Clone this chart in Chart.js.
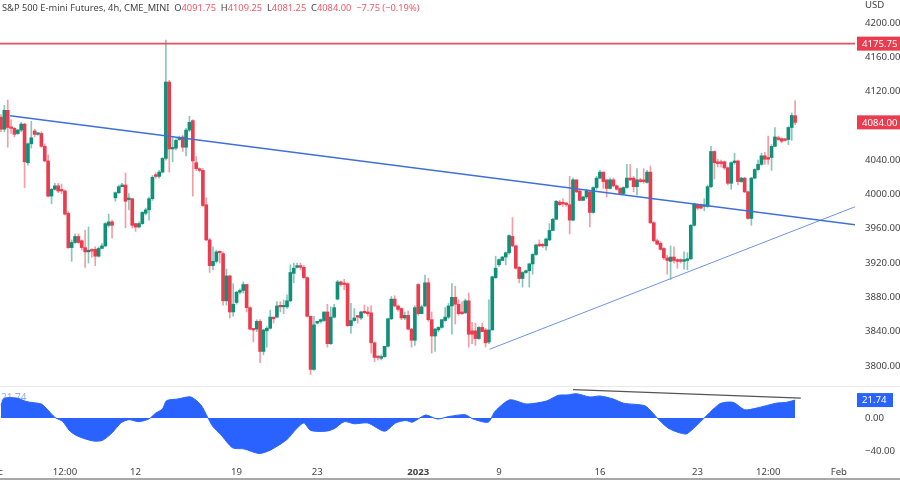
<!DOCTYPE html>
<html>
<head>
<meta charset="utf-8">
<title>S&amp;P 500 E-mini Futures</title>
<script src="https://cdn.jsdelivr.net/npm/chart.js@4/dist/chart.umd.min.js"></script>
<style>
  html, body { margin: 0; padding: 0; background: #fff; }
  #wrap { position: relative; width: 900px; height: 480px; overflow: hidden; }
  #legend { position: absolute; left: 2px; top: 1px; font: 9.3px "Noto Sans", sans-serif; color: #444; white-space: pre; }
  #legend span { color: #ef5a68; }
</style>
</head>
<body>
<div id="wrap">
  <canvas id="chart" width="900" height="480"></canvas>
  <div id="legend">S&amp;P 500 E-mini Futures, 4h, CME_MINI  O<span>4091.75</span>  H<span>4109.25</span>  L<span>4081.25</span>  C<span>4084.00</span>  <span>−7.75 (−0.19%)</span></div>
</div>
<script>
const opens = [
  4090,4076,4098,4078,4077,4071,4075,4082,4037,4059,
  4074,4070,4071,4056,4039,3998,4006,4010,4005,4004,
  3978,3938,3944,3951,3946,3938,3933,3935,3936,3928,
  3937,3940,3964,3968,3996,4002,4009,4011,3994,3995,
  3966,3962,3966,3978,3982,3995,4023,4021,4026,4042,
  4131,4053,4054,4064,4067,4055,4075,4086,4037,4030,
  4028,3988,3947,3917,3922,3933,3931,3876,3905,3863,
  3874,3886,3888,3895,3868,3843,3843,3852,3817,3841,
  3844,3857,3857,3870,3869,3869,3876,3908,3915,3917,
  3915,3903,3858,3796,3850,3852,3853,3863,3826,3857,
  3878,3898,3896,3896,3847,3853,3858,3856,3863,3863,
  3862,3827,3811,3809,3811,3823,3855,3878,3870,3867,
  3856,3859,3843,3830,3895,3861,3870,3897,3854,3835,
  3842,3845,3853,3857,3870,3880,3872,3863,3862,3876,
  3841,3841,3832,3845,3842,3828,3842,3903,3918,3923,
  3927,3932,3951,3940,3915,3902,3909,3911,3919,3930,
  3942,3941,3940,3947,3958,3971,3991,3990,3989,3988,
  3970,4017,4004,3993,3997,4003,3979,4008,4019,4026,
  4017,4007,4017,4010,4007,4001,4008,4019,4019,4009,
  4017,4017,4014,4026,3967,3946,3943,3937,3926,3922,
  3927,3924,3924,3922,3923,3925,3964,3988,3988,3986,
  3986,4009,4050,4038,4038,4038,4031,4013,4037,4039,
  4015,4019,4003,3972,4019,4029,4035,4045,4043,4043,
  4056,4066,4065,4064,4064,4078,4091.75
];
const highs = [
  4093,4104,4110,4087,4078,4076,4084,4083,4060,4085,
  4076,4072,4073,4059,4046,4007,4013,4013,4012,4005,
  3980,3947,3954,3954,3947,3958,3962,3937,3939,3939,
  3943,3967,3977,3970,4003,4011,4013,4025,4001,3995,
  3966,3968,3980,3984,3997,4022,4025,4028,4043,4180,
  4133,4067,4065,4068,4069,4077,4091,4087,4044,4031,
  4030,3996,3949,3939,3935,3934,3933,3913,3906,3896,
  3887,3890,3898,3895,3869,3844,3854,3854,3843,3846,
  3865,3857,3875,3875,3877,3883,3918,3920,3920,3920,
  3917,3904,3858,3858,3852,3855,3863,3872,3869,3872,
  3900,3899,3901,3897,3873,3867,3859,3864,3871,3869,
  3870,3828,3811,3813,3823,3856,3881,3882,3871,3868,
  3863,3864,3844,3870,3896,3871,3906,3902,3863,3844,
  3846,3854,3868,3873,3896,3893,3877,3875,3878,3885,
  3851,3850,3846,3850,3844,3877,3905,3928,3925,3928,
  3933,3953,3973,3941,3916,3910,3912,3920,3931,3942,
  3947,3943,3949,3966,3972,3993,3993,3995,3991,4021,
  4019,4017,4005,3998,4006,4004,4009,4021,4028,4026,
  4017,4019,4019,4011,4008,4009,4035,4035,4021,4030,
  4019,4030,4028,4033,3968,3948,3945,3938,3929,3940,
  3939,3925,3925,3933,3932,3965,3990,3989,3989,3995,
  4011,4056,4051,4041,4040,4039,4032,4038,4048,4040,
  4020,4020,4004,4020,4030,4040,4048,4049,4068,4058,
  4078,4068,4066,4065,4079,4095,4109.25
];
const lows = [
  4073,4073,4055,4071,4067,4070,4073,4008,4034,4054,
  4067,4069,4055,4038,3997,3989,4005,4002,4001,3976,
  3937,3922,3943,3943,3935,3915,3920,3927,3917,3927,
  3937,3939,3962,3949,3992,4001,4009,3961,3982,3961,
  3957,3961,3965,3976,3970,3993,4019,4019,4025,4040,
  4026,4038,4052,4063,4050,4045,4073,3998,4028,4026,
  3986,3946,3909,3912,3920,3920,3871,3871,3856,3858,
  3872,3884,3885,3863,3842,3828,3840,3804,3813,3822,
  3843,3850,3856,3863,3861,3867,3875,3897,3914,3912,
  3902,3857,3790,3795,3849,3850,3852,3822,3825,3856,
  3877,3893,3889,3846,3838,3852,3850,3854,3861,3858,
  3815,3805,3807,3807,3810,3822,3854,3869,3864,3854,
  3854,3842,3822,3824,3859,3861,3869,3852,3815,3817,
  3840,3844,3852,3855,3837,3849,3859,3860,3861,3822,
  3826,3824,3831,3840,3822,3826,3842,3902,3916,3923,
  3918,3930,3939,3913,3897,3892,3908,3892,3907,3929,
  3939,3938,3935,3946,3958,3971,3987,3986,3986,3954,
  3969,4002,3993,3993,3995,3962,3978,4006,4018,4007,
  3997,4006,4009,4005,4000,4000,4007,4016,4003,3999,
  4014,4013,4013,3966,3945,3941,3935,3924,3907,3901,
  3920,3914,3920,3913,3912,3924,3963,3982,3983,3981,
  3985,4008,4018,4032,4032,4029,4011,4006,4035,4011,
  4014,4002,3971,3964,4018,4028,4034,4035,4035,4028,
  4056,4063,4060,4062,4058,4063,4081.25
];
const closes = [
  4076,4098,4078,4077,4070,4075,4082,4038,4059,4066,
  4070,4071,4056,4039,3998,4006,4010,4004,4004,3977,
  3938,3944,3951,3944,3938,3933,3935,3934,3928,3937,
  3940,3966,3968,3964,4002,4009,4011,3992,3995,3964,
  3962,3966,3979,3982,3995,4020,4021,4026,4042,4131,
  4053,4054,4063,4066,4055,4075,4084,4039,4030,4028,
  3987,3947,3917,3922,3933,3932,3876,3905,3863,3872,
  3886,3888,3895,3868,3843,3842,3852,3817,3842,3844,
  3857,3855,3870,3869,3870,3876,3909,3914,3917,3915,
  3903,3858,3796,3848,3852,3854,3863,3826,3857,3868,
  3898,3895,3895,3847,3853,3856,3857,3863,3862,3861,
  3827,3810,3810,3811,3823,3855,3878,3870,3866,3856,
  3859,3843,3830,3868,3861,3869,3897,3854,3835,3843,
  3845,3854,3857,3870,3880,3872,3861,3861,3876,3837,
  3837,3832,3845,3840,3827,3842,3904,3914,3924,3927,
  3932,3952,3940,3914,3902,3909,3911,3919,3930,3941,
  3940,3940,3948,3958,3971,3992,3988,3989,3988,3970,
  4017,4003,3993,3997,4004,3979,4008,4019,4026,4015,
  4007,4017,4010,4006,4001,4008,4019,4017,4009,4017,
  4015,4015,4026,3967,3946,3942,3936,3926,3923,3927,
  3923,3922,3922,3924,3925,3964,3989,3984,3984,3987,
  4009,4050,4037,4036,4036,4031,4013,4037,4039,4015,
  4019,4003,3972,4019,4029,4035,4045,4041,4041,4056,
  4067,4064,4062,4063,4078,4092,4084
];

const oscBars = [0,1,5,7.4,12,13.4,15,16.3,18.3,20.3,22.3,24.8,27.7,30.2,33,35.6,38,41,44,46,48,49.2,52.5,56.4,59.4,61.4,62.9,65.3,68.8,72.3,76.7,80,85,87.6,90,92,96.5,99,102,105,109,114,117.3,120.3,122.3,126.2,129.7,133.4,137.9,140.3,144.8,146.8,151.2,156.2,162.1,165.6,168.5,171,175,178,182,185,191.3,193.3,195.3,198.2,201.7,203.9,209,212,214,217.6,221,224.5,230.4,233.4,236];
const oscValues = [16,24,24,20,17,12,5,0,-4,-15,-21,-25,-28,-27,-18,-6,-2,-4.4,-1,6,11,21,23,25.5,16,1,-10,-20,-36,-37.5,-43,-39,-26,-14,-6,-15,-16,-13,-4.4,-7,-6,-16,-6,-3,-5,3.6,-1.2,2,4,-1.2,-5,8,22,17,20.6,27.5,28,29.5,25.5,26.7,23,18,15,8,-1.2,-12,-18,-19,0,12,18,19,10,12,18,19,21.74];

const priceTicks = [4200,4160,4120,4040,4000,3960,3920,3880,3840,3800];
const oscTicks = [0,-40];
const timeTicks = [-2,19,40,70,94,124,148,178,207,228,249];
const timeLabels = ["Dec","12:00","12","19","23","2023","9","16","23","12:00","Feb"];

const resistance = 4175.75;
const lastClose = 4084;
const lastOsc = 21.74;
const fallingLine = [{x:2.7,y:4091.7},{x:254.4,y:3964.3}];
const risingLine = [{x:145.2,y:3819.5},{x:254.4,y:3986.5}];
const oscLine = [{x:170,y:34.3},{x:237.7,y:24.2}];

const RED = "#e93c4e", GREEN = "#0f9078", BLUE = "#2962ff";
const FONT = '"Noto Sans", sans-serif';
const xMin = -0.3, xMax = 253.8;

const isUp = opens.map((o, i) => closes[i] >= o);

function tag(ctx, x, y, w, text, color) {
  ctx.fillStyle = color;
  ctx.fillRect(x, y - 7, w, 14);
  ctx.fillStyle = "#fff";
  ctx.textAlign = "left";
  ctx.textBaseline = "middle";
  ctx.font = "9.6px " + FONT;
  ctx.fillText(text, x + 5, y + 0.5);
}

const overlay = {
  id: "overlay",
  beforeDatasetsDraw(chart) {
    const ctx = chart.ctx;
    ctx.save();
    ctx.fillStyle = "#8fb0f5";
    ctx.font = "10px " + FONT;
    ctx.textBaseline = "middle";
    ctx.fillText("21.74", 1, 398);
    ctx.restore();
  },
  afterDraw(chart) {
    const { ctx, scales: { y, y2 } } = chart;
    ctx.save();
    // pane separator and bottom rule
    ctx.fillStyle = "#e9e9e9";
    ctx.fillRect(0, y.bottom, 900, 1);
    ctx.fillStyle = "#a8a8a8";
    ctx.fillRect(0, 478, 900, 2);
    tag(ctx, 857, y.getPixelForValue(resistance), 43, "4175.75", RED);
    tag(ctx, 857, y.getPixelForValue(lastClose), 43, lastClose.toFixed(2), RED);
    tag(ctx, 857, y2.getPixelForValue(lastOsc), 36, lastOsc.toFixed(2), BLUE);
    ctx.fillStyle = "#444";
    ctx.font = "9.6px " + FONT;
    ctx.textAlign = "left";
    ctx.textBaseline = "middle";
    ctx.fillText("USD", 865, 5);
    ctx.restore();
  }
};

new Chart(document.getElementById("chart"), {
  data: {
    datasets: [
      {
        type: "bar",
        label: "wicks",
        data: highs.map((h, i) => ({ x: i, y: [lows[i], h] })),
        backgroundColor: isUp.map(u => u ? "rgba(15,144,120,0.5)" : "rgba(233,60,78,0.5)"),
        barThickness: 1,
        grouped: false,
        order: 3,
        yAxisID: "y"
      },
      {
        type: "bar",
        label: "bodies",
        data: opens.map((o, i) => ({ x: i, y: [o, closes[i]] })),
        backgroundColor: isUp.map(u => u ? GREEN : RED),
        barThickness: 3,
        minBarLength: 1.5,
        grouped: false,
        order: 2,
        yAxisID: "y"
      },
      {
        type: "line",
        label: "resistance",
        data: [{ x: xMin, y: resistance }, { x: xMax, y: resistance }],
        borderColor: "#e8505f",
        borderWidth: 1.9,
        pointRadius: 0,
        order: 1,
        yAxisID: "y"
      },
      {
        type: "line",
        label: "falling",
        data: fallingLine,
        borderColor: "#3f6fd8",
        borderWidth: 1.6,
        pointRadius: 0,
        order: 1,
        yAxisID: "y"
      },
      {
        type: "line",
        label: "rising",
        data: risingLine,
        borderColor: "#6f93e4",
        borderWidth: 1,
        pointRadius: 0,
        order: 1,
        yAxisID: "y"
      },
      {
        type: "line",
        label: "oscillator",
        data: oscBars.map((b, i) => ({ x: b, y: oscValues[i] })),
        borderColor: BLUE,
        backgroundColor: BLUE,
        borderWidth: 1,
        pointRadius: 0,
        tension: 0.25,
        fill: "origin",
        order: 2,
        yAxisID: "y2"
      },
      {
        type: "line",
        label: "osc trend",
        data: oscLine,
        borderColor: "#555",
        borderWidth: 1.2,
        pointRadius: 0,
        order: 1,
        yAxisID: "y2"
      }
    ]
  },
  options: {
    responsive: false,
    animation: false,
    parsing: { xAxisKey: "x", yAxisKey: "y" },
    layout: { padding: 0 },
    plugins: { legend: { display: false }, tooltip: { enabled: false } },
    scales: {
      x: {
        type: "linear",
        offset: false,
        min: xMin,
        max: xMax,
        grid: { display: false, drawTicks: false, offset: false },
        border: { display: false },
        afterBuildTicks: s => { s.ticks = timeTicks.map(v => ({ value: v })); },
        afterFit: s => { s.height = 18; s.paddingLeft = 0; s.paddingRight = 0; },
        ticks: {
          autoSkip: false,
          maxRotation: 0,
          padding: 5,
          color: "#444",
          font: c => ({ family: FONT, size: 9.6, weight: timeLabels[c.index] === "2023" ? "bold" : "normal" }),
          callback: (v, i) => timeLabels[i]
        }
      },
      y: {
        position: "right",
        stack: "panes",
        stackWeight: 386,
        min: 3776.7,
        max: 4226.6,
        grid: { display: false, drawTicks: false },
        border: { display: false },
        afterBuildTicks: s => { s.ticks = priceTicks.map(v => ({ value: v })); },
        afterFit: s => { s.width = 45; s.paddingTop = 0; s.paddingBottom = 0; },
        ticks: { padding: 10, color: "#444", font: { family: FONT, size: 9.6 }, callback: v => v.toFixed(2) }
      },
      y2: {
        position: "right",
        stack: "panes",
        stackWeight: 76,
        min: -53.3,
        max: 38.8,
        grid: { display: false, drawTicks: false },
        border: { display: false },
        afterBuildTicks: s => { s.ticks = oscTicks.map(v => ({ value: v })); },
        afterFit: s => { s.width = 45; s.paddingTop = 0; s.paddingBottom = 0; },
        ticks: { padding: 10, color: "#444", font: { family: FONT, size: 9.6 }, callback: v => v.toFixed(2).replace("-", "−") }
      }
    }
  },
  plugins: [overlay]
});
</script>
</body>
</html>
